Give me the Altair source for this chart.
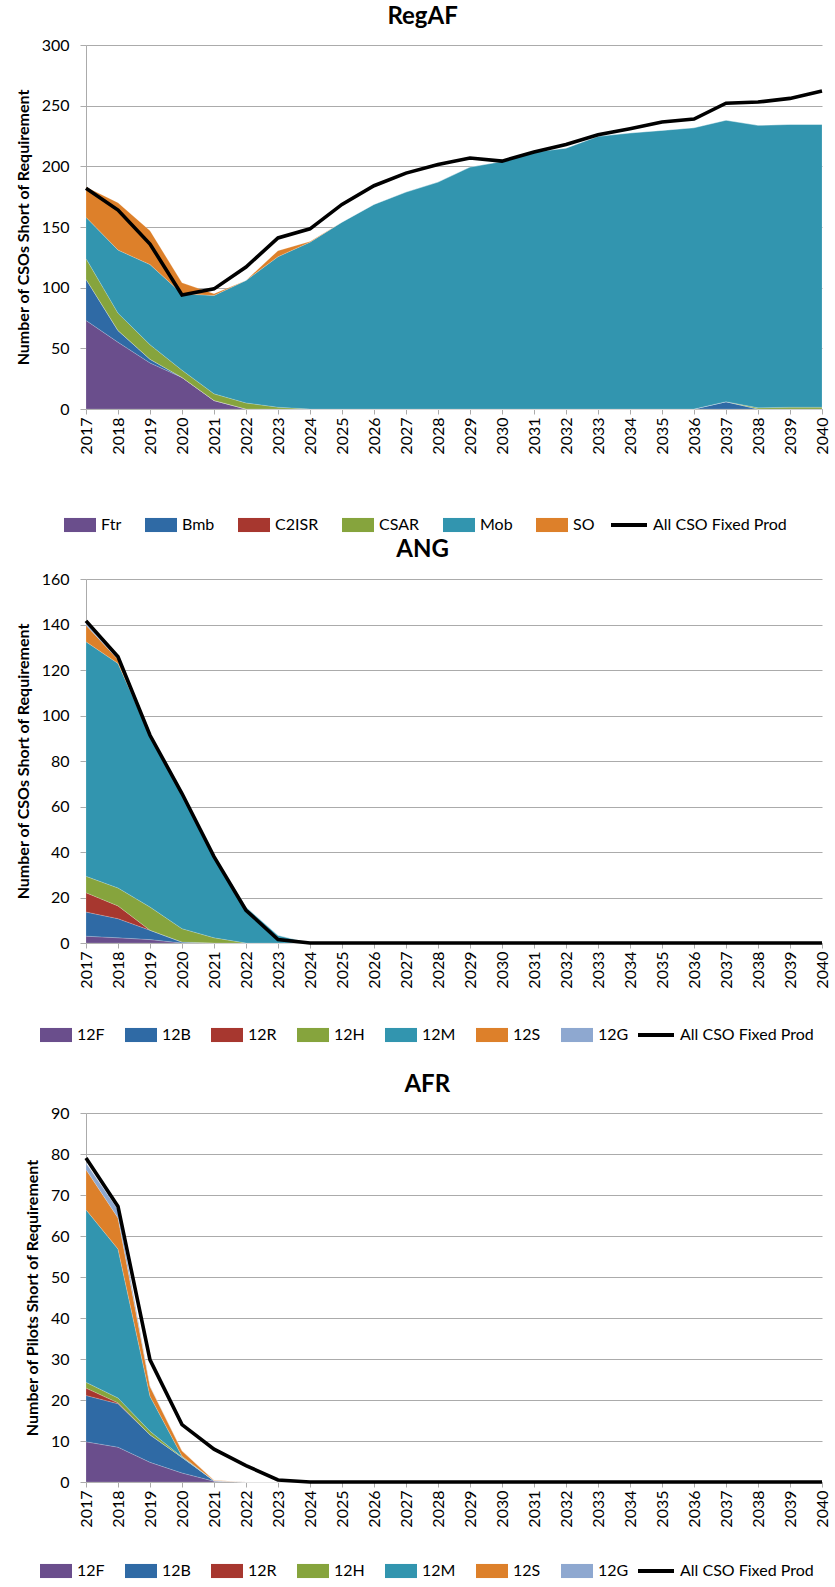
import altair as alt
import pandas as pd

years = list(range(2017, 2041))

# ---- RegAF ----
regaf_names = ["Ftr", "Bmb", "C2ISR", "CSAR", "Mob", "SO"]
regaf_colors = ["#6A4E8C", "#2F6AA5", "#A7372F", "#86A43D", "#3295AF", "#DD802A"]
regaf_ftr = [73, 55, 38, 26, 7, 0, 0, 0, 0, 0, 0, 0, 0, 0, 0, 0, 0, 0, 0, 0, 0, 0, 0, 0]
regaf_bmb = [34, 9.6, 3, 0, 0, 0, 0, 0, 0, 0, 0, 0, 0, 0, 0, 0, 0, 0, 0, 0, 6, 0, 0, 0]
regaf_c2isr = [0] * 24
regaf_csar = [17, 14.4, 12, 6, 5.5, 5, 1.5, 0, 0, 0, 0, 0, 0, 0, 0, 0, 0, 0, 0, 0, 0, 1, 1.5, 1.5]
regaf_mob = [34, 52, 66, 63, 81, 101, 124, 137.5, 154, 168.6, 178.8, 187, 199.4, 204,
             211.8, 215, 224.7, 227.5, 229.6, 231.8, 232, 232.8, 233, 233]
regaf_so = [25, 39, 28, 9, 1.5, 0, 5, 0.5, 0, 0, 0, 0, 0, 0, 0, 0, 0, 0, 0, 0, 0, 0, 0, 0]
regaf_line = [182, 164, 136, 94, 99, 117, 141, 148.5, 168.6, 184, 194.4, 201.6, 206.8, 204.3,
              211.8, 218, 226, 231, 236.5, 239, 252, 253, 256, 262]

# ---- ANG ----
ang_names = ["12F", "12B", "12R", "12H", "12M", "12S", "12G"]
ang_colors = ["#6A4E8C", "#2F6AA5", "#A7372F", "#86A43D", "#3295AF", "#DD802A", "#8EA8D0"]
ang_12f = [3, 2.3, 1.5, 0, 0, 0, 0, 0, 0, 0, 0, 0, 0, 0, 0, 0, 0, 0, 0, 0, 0, 0, 0, 0]
ang_12b = [10.6, 8.4, 4.1, 0.4, 0, 0, 0, 0, 0, 0, 0, 0, 0, 0, 0, 0, 0, 0, 0, 0, 0, 0, 0, 0]
ang_12r = [8.5, 5.6, 0, 0, 0, 0, 0, 0, 0, 0, 0, 0, 0, 0, 0, 0, 0, 0, 0, 0, 0, 0, 0, 0]
ang_12h = [7.2, 7.9, 10.2, 5.9, 2.3, 0, 0, 0, 0, 0, 0, 0, 0, 0, 0, 0, 0, 0, 0, 0, 0, 0, 0, 0]
ang_12m = [103.1, 98.7, 75.5, 59.4, 36.3, 15.8, 3.4, 0, 0, 0, 0, 0, 0, 0, 0, 0, 0, 0, 0, 0, 0, 0, 0, 0]
ang_12s = [7.3, 1.7, 0, 0, 0, 0, 0, 0, 0, 0, 0, 0, 0, 0, 0, 0, 0, 0, 0, 0, 0, 0, 0, 0]
ang_12g = [1, 0.5, 0, 0, 0, 0, 0, 0, 0, 0, 0, 0, 0, 0, 0, 0, 0, 0, 0, 0, 0, 0, 0, 0]
ang_line = [141.6, 125.8, 91.3, 65.7, 38, 14.4, 1.5, 0, 0, 0, 0, 0, 0, 0, 0, 0, 0, 0, 0, 0, 0, 0, 0, 0]

# ---- AFR ----
afr_12f = [9.8, 8.5, 4.8, 2.2, 0.2, 0, 0, 0, 0, 0, 0, 0, 0, 0, 0, 0, 0, 0, 0, 0, 0, 0, 0, 0]
afr_12b = [11.3, 10.6, 6.7, 3.8, 0.1, 0, 0, 0, 0, 0, 0, 0, 0, 0, 0, 0, 0, 0, 0, 0, 0, 0, 0, 0]
afr_12r = [1.8, 0.2, 0, 0, 0, 0, 0, 0, 0, 0, 0, 0, 0, 0, 0, 0, 0, 0, 0, 0, 0, 0, 0, 0]
afr_12h = [1.4, 1.2, 0.9, 0.1, 0, 0, 0, 0, 0, 0, 0, 0, 0, 0, 0, 0, 0, 0, 0, 0, 0, 0, 0, 0]
afr_12m = [42.1, 36.3, 8.5, 0.2, 0, 0, 0, 0, 0, 0, 0, 0, 0, 0, 0, 0, 0, 0, 0, 0, 0, 0, 0, 0]
afr_12s = [9.8, 7.6, 2.4, 1.3, 0.1, 0, 0, 0, 0, 0, 0, 0, 0, 0, 0, 0, 0, 0, 0, 0, 0, 0, 0, 0]
afr_12g = [1.6, 2.0, 0.1, 0, 0, 0, 0, 0, 0, 0, 0, 0, 0, 0, 0, 0, 0, 0, 0, 0, 0, 0, 0, 0]
afr_line = [79, 67.2, 29.8, 14, 8, 4, 0.5, 0, 0, 0, 0, 0, 0, 0, 0, 0, 0, 0, 0, 0, 0, 0, 0, 0]

LINE_NAME = "All CSO Fixed Prod"
FONT = "Lato"
GRID = "#ABABAB"
RECT = "M-1,-0.44L1,-0.44L1,0.44L-1,0.44Z"


def panel(title, ytitle, ymax, ystep, names, colors, series, line_vals, height,
          colpad, fill_x, line_x, leg_y, title_off):
    rows = []
    for i, (n, vals) in enumerate(zip(names, series)):
        for y, v in zip(years, vals):
            rows.append({"year": y, "series": n, "value": v, "idx": i})
    df = pd.DataFrame(rows)
    ldf = pd.DataFrame({"year": years, "value": line_vals, "s": LINE_NAME})

    xaxis = alt.Axis(values=years, format="d", labelAngle=270, grid=False,
                     title=None, tickSize=5, labelFontSize=16, labelPadding=3,
                     labelFlush=False, labelOverlap=False, labelSeparation=0)
    xscale = alt.Scale(domain=[2017, 2040], nice=False, zero=False)
    yaxis = alt.Axis(values=list(range(0, ymax + 1, ystep)), title=ytitle,
                     grid=True, tickSize=6, labelFontSize=16, labelPadding=11,
                     titleFontSize=16, titleFontWeight="bold", titlePadding=10)
    yscale = alt.Scale(domain=[0, ymax], nice=False)

    area = alt.Chart(df).mark_area(opacity=1, stroke="#ffffff", strokeWidth=0.3, strokeOpacity=0.6).encode(
        x=alt.X("year:Q", scale=xscale, axis=xaxis),
        y=alt.Y("value:Q", stack="zero", scale=yscale, axis=yaxis),
        fill=alt.Fill("series:N", scale=alt.Scale(domain=names, range=colors),
                      legend=alt.Legend(title=None, orient="none", direction="horizontal",
                                        legendX=fill_x, legendY=leg_y,
                                        symbolType=RECT, symbolSize=1024, symbolStrokeWidth=0,
                                        symbolOpacity=1, labelFontSize=16, labelFont=FONT,
                                        labelColor="black", labelOffset=5,
                                        columnPadding=colpad)),
        order=alt.Order("idx:Q", sort="ascending"),
    )
    line = alt.Chart(ldf).mark_line(strokeWidth=3.6, color="black").encode(
        x=alt.X("year:Q", scale=xscale, axis=xaxis),
        y=alt.Y("value:Q", scale=yscale, axis=yaxis),
        stroke=alt.Stroke("s:N", scale=alt.Scale(domain=[LINE_NAME], range=["black"]),
                          legend=alt.Legend(title=None, orient="none", direction="horizontal",
                                            legendX=line_x, legendY=leg_y - 4,
                                            symbolType="stroke", symbolSize=1296,
                                            symbolStrokeWidth=4, labelFontSize=16,
                                            labelFont=FONT, labelColor="black",
                                            labelOffset=4)),
    )
    return alt.layer(area, line).properties(
        width=736, height=height,
        title=alt.TitleParams(title, fontSize=24, font=FONT, fontWeight="bold",
                              anchor="middle", frame="bounds", offset=title_off, color="black"),
    )


p1 = panel("RegAF", "Number of CSOs Short of Requirement", 300, 50, regaf_names, regaf_colors,
           [regaf_ftr, regaf_bmb, regaf_c2isr, regaf_csar, regaf_mob, regaf_so], regaf_line,
           364, 23, -22, 523, 464, 8)
p2 = panel("ANG", "Number of CSOs Short of Requirement", 160, 20, ang_names, ang_colors,
           [ang_12f, ang_12b, ang_12r, ang_12h, ang_12m, ang_12s, ang_12g], ang_line,
           364, 20, -46, 550, 440, 9)
p3 = panel("AFR", "Number of Pilots Short of Requirement", 90, 10, ang_names, ang_colors,
           [afr_12f, afr_12b, afr_12r, afr_12h, afr_12m, afr_12s, afr_12g], afr_line,
           369, 20, -46, 550, 442, 8)

chart = alt.vconcat(p1, p2, p3, spacing=170, bounds="flush").properties(
    padding={"left": 15, "top": 5, "right": 0, "bottom": 0}
).configure(font=FONT).configure_view(stroke=None).configure_axis(
    domainColor=GRID, tickColor=GRID, gridColor=GRID, labelColor="black",
    titleColor="black", labelFont=FONT, titleFont=FONT,
).configure_axisX(labelOverlap=False).resolve_scale(fill="independent", stroke="independent")

chart.save("out.html", embed_options={"renderer": "svg", "actions": False})
